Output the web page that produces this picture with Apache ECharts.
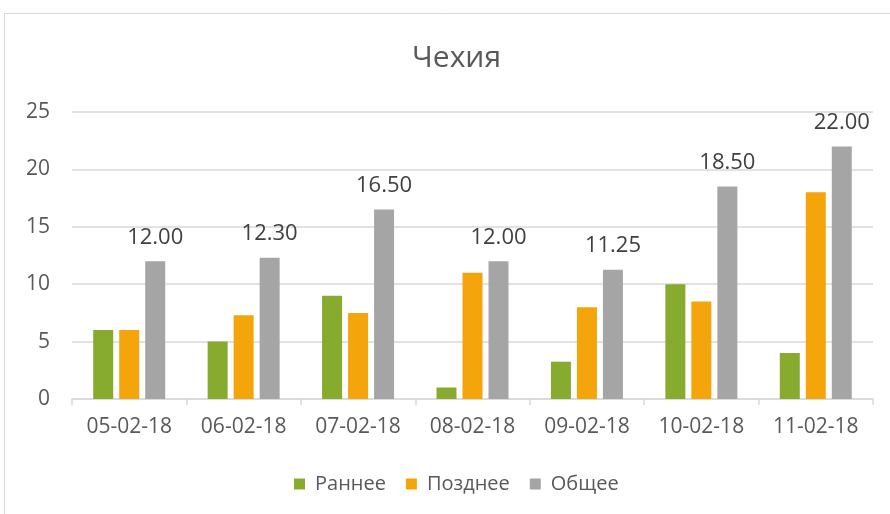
<!DOCTYPE html>
<html><head><meta charset="utf-8">
<script src="https://cdn.jsdelivr.net/npm/echarts@6/dist/echarts.min.js"></script>
<style>html,body{margin:0;padding:0;background:#fff}#c{width:890px;height:514px}</style>
</head><body><div id="c"></div>
<script>
const categories = ['05-02-18','06-02-18','07-02-18','08-02-18','09-02-18','10-02-18','11-02-18'];
const early = [6, 5, 9, 1, 3.25, 10, 4];
const late = [6, 7.3, 7.5, 11, 8, 8.5, 18];
const total = [12, 12.3, 16.5, 12, 11.25, 18.5, 22];
const yTicks = [0, 5, 10, 15, 20, 25];
const F = '"Open Sans", "Noto Sans", sans-serif';
const chart = echarts.init(document.getElementById('c'));
chart.setOption({
  animation: false,
  graphic: [{type:'rect', shape:{x:4.5,y:13.5,width:900,height:520}, style:{fill:'none', stroke:'#d9d9d9', lineWidth:1}}],
  title: {text:'Чехия', left:407, top:38, textStyle:{fontFamily:F, fontSize:30, fontWeight:'normal', color:'#595959'}},
  legend: {top:469, left:289, itemWidth:11, itemHeight:11, itemGap:20, icon:'rect',
    textStyle:{fontFamily:F, fontSize:20, color:'#595959', padding:[0,0,0,5]}, data:['Раннее','Позднее','Общее']},
  grid: {left:72, right:17, top:112, bottom:115, containLabel:false},
  xAxis: {type:'category', data:categories,
    axisLine:{lineStyle:{color:'#d9d9d9', width:1.5}}, axisTick:{show:true, length:6, lineStyle:{color:'#d9d9d9', width:1.5}},
    axisLabel:{fontFamily:F, fontSize:21, color:'#595959', margin:18}},
  yAxis: {type:'value', min:yTicks[0], max:yTicks[yTicks.length-1], interval:5,
    axisLine:{show:false}, axisTick:{show:false},
    splitLine:{lineStyle:{color:'#d9d9d9', width:1.5}},
    axisLabel:{fontFamily:F, fontSize:21, color:'#595959', margin:22}},
  series: [
    {name:'Раннее', type:'bar', data:early, barWidth:20, barGap:'30%', itemStyle:{color:'#86ab2e'}},
    {name:'Позднее', type:'bar', data:late, barWidth:20, barGap:'30%', itemStyle:{color:'#f5a50c'}},
    {name:'Общее', type:'bar', data:total, barWidth:20, barGap:'30%', itemStyle:{color:'#a5a5a5'},
      label:{show:true, position:'top', distance:13, formatter:p=>p.value.toFixed(2), fontFamily:F, fontSize:22, color:'#404040'}}
  ]
});
</script></body></html>
